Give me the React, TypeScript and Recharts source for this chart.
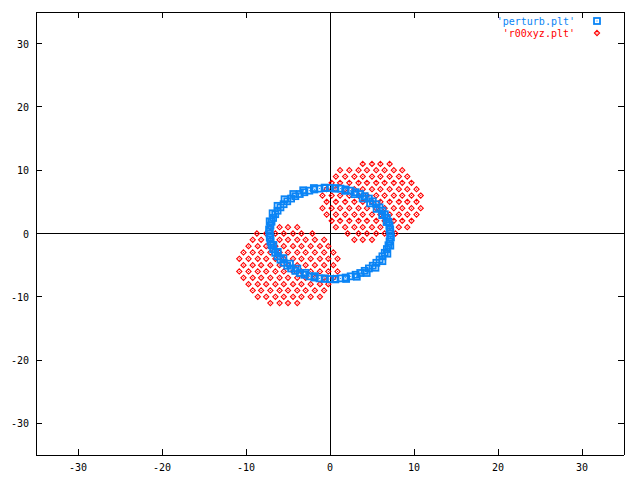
import React from 'react';
import { ScatterChart, Scatter, XAxis, YAxis, ReferenceLine } from 'recharts';

const ticks = [-30, -20, -10, 0, 10, 20, 30];

// 'perturb.plt' - first pass round the ring
const ringAX = [
  7.2, 7.17, 7.09, 6.96, 6.77, 6.52, 6.24, 5.9, 5.52, 5.09, 4.63, 4.13, 3.6, 3.05, 2.46, 1.86, 1.25, 0.63,
  0, -0.63, -1.25, -1.86, -2.46, -3.05, -3.6, -4.13, -4.63, -5.09, -5.52, -5.9, -6.24, -6.52, -6.77, -6.96, -7.09, -7.17,
  -7.2, -7.17, -7.09, -6.96, -6.77, -6.52, -6.24, -5.9, -5.52, -5.09, -4.63, -4.13, -3.6, -3.05, -2.46, -1.86, -1.25, -0.63,
  0, 0.63, 1.25, 1.86, 2.46, 3.05, 3.6, 4.13, 4.63, 5.09, 5.52, 5.9, 6.24, 6.52, 6.77, 6.96, 7.09, 7.17,
];
const ringAY = [
  0, 0.63, 1.25, 1.86, 2.46, 3.05, 3.6, 4.13, 4.63, 5.09, 5.52, 5.9, 6.24, 6.52, 6.77, 6.96, 7.09, 7.17,
  7.2, 7.17, 7.09, 6.96, 6.77, 6.52, 6.24, 5.9, 5.52, 5.09, 4.63, 4.13, 3.6, 3.05, 2.46, 1.86, 1.25, 0.63,
  0, -0.63, -1.25, -1.86, -2.46, -3.05, -3.6, -4.13, -4.63, -5.09, -5.52, -5.9, -6.24, -6.52, -6.77, -6.96, -7.09, -7.17,
  -7.2, -7.17, -7.09, -6.96, -6.77, -6.52, -6.24, -5.9, -5.52, -5.09, -4.63, -4.13, -3.6, -3.05, -2.46, -1.86, -1.25, -0.63,
];
// second pass, pushed out to the upper left and lower right
const ringBX = [
  7.09, 6.74, 6.22, 5.55, 4.77, 3.89, 2.9, 1.81, 0.62, -0.63, -1.92, -3.19, -4.37, -5.41, -6.24, -6.83, -7.18, -7.25,
  -7.09, -6.74, -6.22, -5.55, -4.77, -3.89, -2.9, -1.81, -0.62, 0.63, 1.92, 3.19, 4.37, 5.41, 6.24, 6.83, 7.18, 7.25,
];
const ringBY = [
  0.62, 1.81, 2.9, 3.89, 4.77, 5.55, 6.22, 6.74, 7.09, 7.25, 7.18, 6.83, 6.24, 5.41, 4.37, 3.19, 1.92, 0.63,
  -0.62, -1.81, -2.9, -3.89, -4.77, -5.55, -6.22, -6.74, -7.09, -7.25, -7.18, -6.83, -6.24, -5.41, -4.37, -3.19, -1.92, -0.63,
];

// 'r00xyz.plt' - rows of points, upper right blob
const upperRowY = [11, 10, 9, 8, 7, 6, 5, 4, 3, 2, 1, 0, -1];
const upperRowX = [
  [3.9, 5.0, 6.0, 7.1],
  [1.2, 2.3, 3.4, 4.4, 5.5, 6.5, 7.6, 8.6],
  [0.7, 1.8, 2.9, 3.9, 5.0, 6.0, 7.1, 8.2, 9.2],
  [0.2, 1.2, 2.3, 3.4, 4.4, 5.5, 6.5, 7.6, 8.6, 9.7],
  [-0.4, 0.7, 1.8, 2.9, 3.9, 5.0, 6.0, 7.1, 8.2, 9.2, 10.3],
  [-0.9, 0.2, 1.2, 2.3, 3.4, 4.4, 5.5, 6.5, 7.6, 8.6, 9.7, 10.8],
  [-0.4, 0.7, 1.8, 2.9, 3.9, 5.0, 6.0, 7.1, 8.2, 9.2, 10.3],
  [-0.9, 0.2, 1.2, 2.3, 3.4, 4.4, 5.5, 6.5, 7.6, 8.6, 9.7, 10.8],
  [-0.4, 0.7, 1.8, 2.9, 3.9, 5.0, 6.0, 7.1, 8.2, 9.2, 10.3],
  [0.2, 1.2, 2.3, 3.4, 4.4, 5.5, 6.5, 7.6, 8.6, 9.7],
  [0.7, 1.8, 2.9, 3.9, 5.0, 6.0, 7.1, 8.2, 9.2],
  [2.1, 3.4, 4.4, 5.5, 6.5, 7.8],
  [2.9, 3.9, 5.0],
];
// lower left blob
const lowerRowY = [1, 0, -1, -2, -3, -4, -5, -6, -7, -8, -9, -10, -11];
const lowerRowX = [
  [-7.1, -6.0, -5.0, -3.9],
  [-8.7, -7.6, -6.5, -5.5, -4.4, -3.4, -2.1],
  [-9.2, -8.2, -7.1, -6.0, -5.0, -3.9, -2.9, -1.8, -0.7],
  [-9.7, -8.6, -7.6, -6.5, -5.5, -4.4, -3.4, -2.3, -1.2, -0.2],
  [-10.3, -9.2, -8.2, -7.1, -6.0, -5.0, -3.9, -2.9, -1.8, -0.7, 0.4],
  [-10.8, -9.7, -8.6, -7.6, -6.5, -5.5, -4.4, -3.4, -2.3, -1.2, -0.2, 0.9],
  [-10.3, -9.2, -8.2, -7.1, -6.0, -5.0, -3.9, -2.9, -1.8, -0.7, 0.4],
  [-10.8, -9.7, -8.6, -7.6, -6.5, -5.5, -4.4, -3.4, -2.3, -1.2, -0.2, 0.9],
  [-10.3, -9.2, -8.2, -7.1, -6.0, -5.0, -3.9, -2.9, -1.8, -0.7, 0.4],
  [-9.7, -8.6, -7.6, -6.5, -5.5, -4.4, -3.4, -2.3, -1.2, -0.2],
  [-9.2, -8.2, -7.1, -6.0, -5.0, -3.9, -2.9, -1.8, -0.7],
  [-8.6, -7.6, -6.5, -5.5, -4.4, -3.4, -2.3, -1.2],
  [-7.1, -6.0, -5.0, -3.9],
];

const BLUE = '#0a84f5';
const RED = '#ff0000';
const FONT = '"DejaVu Sans Mono", monospace';

const perturbData = [
  ...ringAX.map((x, i) => ({ x, y: ringAY[i] })),
  ...ringBX.map((x, i) => ({ x, y: ringBY[i] })),
];

const rowsToPoints = (ys: number[], xs: number[][]) =>
  ys.flatMap((y, i) => xs[i].map((x) => ({ x, y })));

const r00Data = [
  ...rowsToPoints(upperRowY, upperRowX),
  ...rowsToPoints(lowerRowY, lowerRowX),
];

const Square = (p: any) => (
  <g>
    <rect x={p.cx - 3} y={p.cy - 3} width={6} height={6} fill="none" stroke={BLUE} strokeWidth={1.8} />
    <rect x={p.cx - 0.5} y={p.cy - 0.5} width={1} height={1} fill={BLUE} />
  </g>
);

const Diamond = (p: any) => (
  <g>
    <path
      d={`M${p.cx},${p.cy - 2.6}L${p.cx + 2.6},${p.cy}L${p.cx},${p.cy + 2.6}L${p.cx - 2.6},${p.cy}Z`}
      fill="none"
      stroke={RED}
      strokeWidth={1.1}
    />
    <rect x={p.cx - 0.5} y={p.cy - 0.5} width={1} height={1} fill={RED} />
  </g>
);

const BottomTick = (p: any) => (
  <g>
    <line x1={p.x} x2={p.x} y1={p.y} y2={p.y - 6} stroke="#000" shapeRendering="crispEdges" />
    <text x={p.x} y={p.y + 16} textAnchor="middle" fontFamily={FONT} fontSize={10} fill="#000">
      {p.payload.value}
    </text>
  </g>
);
const TopTick = (p: any) => (
  <line x1={p.x} x2={p.x} y1={p.y} y2={p.y + 6} stroke="#000" shapeRendering="crispEdges" />
);
const LeftTick = (p: any) => (
  <g>
    <line x1={p.x} x2={p.x + 6} y1={p.y} y2={p.y} stroke="#000" shapeRendering="crispEdges" />
    <text x={p.x - 7} y={p.y + 4} textAnchor="end" fontFamily={FONT} fontSize={10} fill="#000">
      {p.payload.value}
    </text>
  </g>
);
const RightTick = (p: any) => (
  <line x1={p.x} x2={p.x - 6} y1={p.y} y2={p.y} stroke="#000" shapeRendering="crispEdges" />
);

const axisLine = { stroke: '#000', shapeRendering: 'crispEdges' };

const App = () => {
  return (
    <div style={{ position: 'absolute', left: 0, top: 0, width: 640, height: 480, background: '#fff' }}>
      <ScatterChart width={640} height={480} margin={{ top: 0, right: 0, bottom: 0, left: 0 }}>
        <XAxis
          xAxisId="b"
          type="number"
          dataKey="x"
          domain={[-35, 35]}
          ticks={ticks}
          interval={0}
          allowDataOverflow
          orientation="bottom"
          height={25}
          tickSize={0}
          tickMargin={0}
          tickLine={false}
          axisLine={axisLine}
          tick={(p: any) => <BottomTick {...p} />}
        />
        <XAxis
          xAxisId="t"
          type="number"
          dataKey="x"
          domain={[-35, 35]}
          ticks={ticks}
          interval={0}
          allowDataOverflow
          orientation="top"
          height={12}
          tickSize={0}
          tickMargin={0}
          tickLine={false}
          axisLine={axisLine}
          tick={(p: any) => <TopTick {...p} />}
        />
        <YAxis
          yAxisId="l"
          type="number"
          dataKey="y"
          domain={[-35, 35]}
          ticks={ticks}
          interval={0}
          allowDataOverflow
          orientation="left"
          width={36}
          tickSize={0}
          tickMargin={0}
          tickLine={false}
          axisLine={axisLine}
          tick={(p: any) => <LeftTick {...p} />}
        />
        <YAxis
          yAxisId="r"
          type="number"
          dataKey="y"
          domain={[-35, 35]}
          ticks={ticks}
          interval={0}
          allowDataOverflow
          orientation="right"
          width={16}
          tickSize={0}
          tickMargin={0}
          tickLine={false}
          axisLine={axisLine}
          tick={(p: any) => <RightTick {...p} />}
        />
        <ReferenceLine xAxisId="b" yAxisId="l" x={0} stroke="#000" shapeRendering="crispEdges" />
        <ReferenceLine xAxisId="b" yAxisId="l" y={0} stroke="#000" shapeRendering="crispEdges" />
        <Scatter
          name="'r00xyz.plt'"
          xAxisId="b"
          yAxisId="l"
          data={r00Data}
          shape={Diamond}
          isAnimationActive={false}
        />
        <Scatter
          name="'perturb.plt'"
          xAxisId="b"
          yAxisId="l"
          data={perturbData}
          shape={Square}
          isAnimationActive={false}
        />
      </ScatterChart>
      <svg
        width={640}
        height={480}
        style={{ position: 'absolute', left: 0, top: 0, pointerEvents: 'none' }}
      >
        <text x={575} y={25} textAnchor="end" fontFamily={FONT} fontSize={10} fill={BLUE}>
          'perturb.plt'
        </text>
        <Square cx={597} cy={21} />
        <text x={575} y={37} textAnchor="end" fontFamily={FONT} fontSize={10} fill={RED}>
          'r00xyz.plt'
        </text>
        <Diamond cx={597} cy={33} />
      </svg>
    </div>
  );
};

export default App;
